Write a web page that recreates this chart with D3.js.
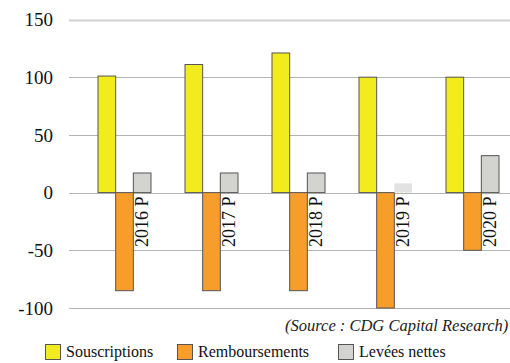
<!DOCTYPE html>
<html>
<head>
<meta charset="utf-8">
<script src="https://cdn.jsdelivr.net/npm/d3@7"></script>
<style>
body { margin: 0; background: #fff; }
text { font-family: "Liberation Serif", "DejaVu Serif", serif; }
</style>
</head>
<body>
<div class="chart"></div>
<script>
var w = 510, h = 363;

// data
var years = ['2016 P', '2017 P', '2018 P', '2019 P', '2020 P'];
var souscriptions = [101, 111, 121, 100, 100];
var remboursements = [-85, -85, -85, -100, -50];
var leveesNettes = [17, 17, 17, 8, 32];
var ticks = [150, 100, 50, 0, -50, -100];
var seriesNames = ['Souscriptions', 'Remboursements', 'Levées nettes'];
var colors = ['#f2ec1e', '#f79d2b', '#d3d3d0'];

var series = [souscriptions, remboursements, leveesNettes];

var y = d3.scaleLinear().domain([-100, 150]).range([308, 19.5]);
var x = d3.scaleBand().domain(years).range([81, 516]);
var sub = d3.scaleBand().domain(d3.range(3)).range([17, 70]);

var svg = d3.select('.chart').append('svg')
	.attr('width', w)
	.attr('height', h)
	.style('display', 'block');

// grid lines
svg.selectAll('line.grid')
	.data(ticks)
	.enter()
	.append('line')
		.attr('class', 'grid')
		.attr('x1', 69)
		.attr('x2', w)
		.attr('y1', function(d) { return Math.round(y(d)) + 0.5; })
		.attr('y2', function(d) { return Math.round(y(d)) + 0.5; })
		.attr('stroke', function(d) { return d == 150 ? '#d0d0d0' : '#b4b4b4'; })
		.attr('stroke-width', function(d) { return d == 150 ? 2 : 1; });

// y labels
svg.selectAll('text.tick')
	.data(ticks)
	.enter()
	.append('text')
		.attr('class', 'tick')
		.attr('x', 53)
		.attr('y', function(d) { return y(d); })
		.attr('dy', '0.35em')
		.attr('text-anchor', 'end')
		.attr('font-size', 19)
		.attr('fill', '#111')
		.text(function(d) { return d; });

// bars
var groups = svg.selectAll('g.year')
	.data(years)
	.enter()
	.append('g')
		.attr('class', 'year')
		.attr('transform', function(d) { return 'translate(' + x(d) + ',0)'; });

groups.selectAll('rect')
	.data(function(d, i) {
		return series.map(function(s, k) { return { k: k, v: s[i], faded: (i == 3 && k == 2) }; });
	})
	.enter()
	.append('rect')
		.attr('x', function(d) { return sub(d.k); })
		.attr('width', sub.bandwidth())
		.attr('y', function(d) { return y(Math.max(0, d.v)); })
		.attr('height', function(d) { return Math.abs(y(d.v) - y(0)); })
		.attr('fill', function(d) { return d.faded ? '#e2e2e2' : colors[d.k]; })
		.attr('stroke', function(d) { return d.faded ? 'none' : '#555'; })
		.attr('stroke-width', 1);

// rotated category labels
groups.append('text')
	.attr('transform', function() { return 'translate(' + (sub(2) + sub.bandwidth() / 2 + 6) + ',' + (y(0) + 4) + ') rotate(-90)'; })
	.attr('text-anchor', 'end')
	.attr('font-size', 18)
	.attr('fill', '#111')
	.text(function(d) { return d; });

// source
svg.append('text')
	.attr('x', 285)
	.attr('y', 331)
	.attr('font-size', 16.5)
	.attr('font-style', 'italic')
	.attr('fill', '#222')
	.text('(Source : CDG Capital Research)');

// legend
var legX = [45, 177, 338];
var legend = svg.selectAll('g.legend')
	.data(seriesNames)
	.enter()
	.append('g')
		.attr('class', 'legend')
		.attr('transform', function(d, i) { return 'translate(' + legX[i] + ',344)'; });

legend.append('rect')
	.attr('x', 0.5)
	.attr('y', 0.5)
	.attr('width', 15)
	.attr('height', 15)
	.attr('fill', function(d, i) { return colors[i]; })
	.attr('stroke', '#555');

legend.append('text')
	.attr('x', 21)
	.attr('y', 13)
	.attr('font-size', 16)
	.attr('fill', '#111')
	.text(function(d) { return d; });
</script>
</body>
</html>
